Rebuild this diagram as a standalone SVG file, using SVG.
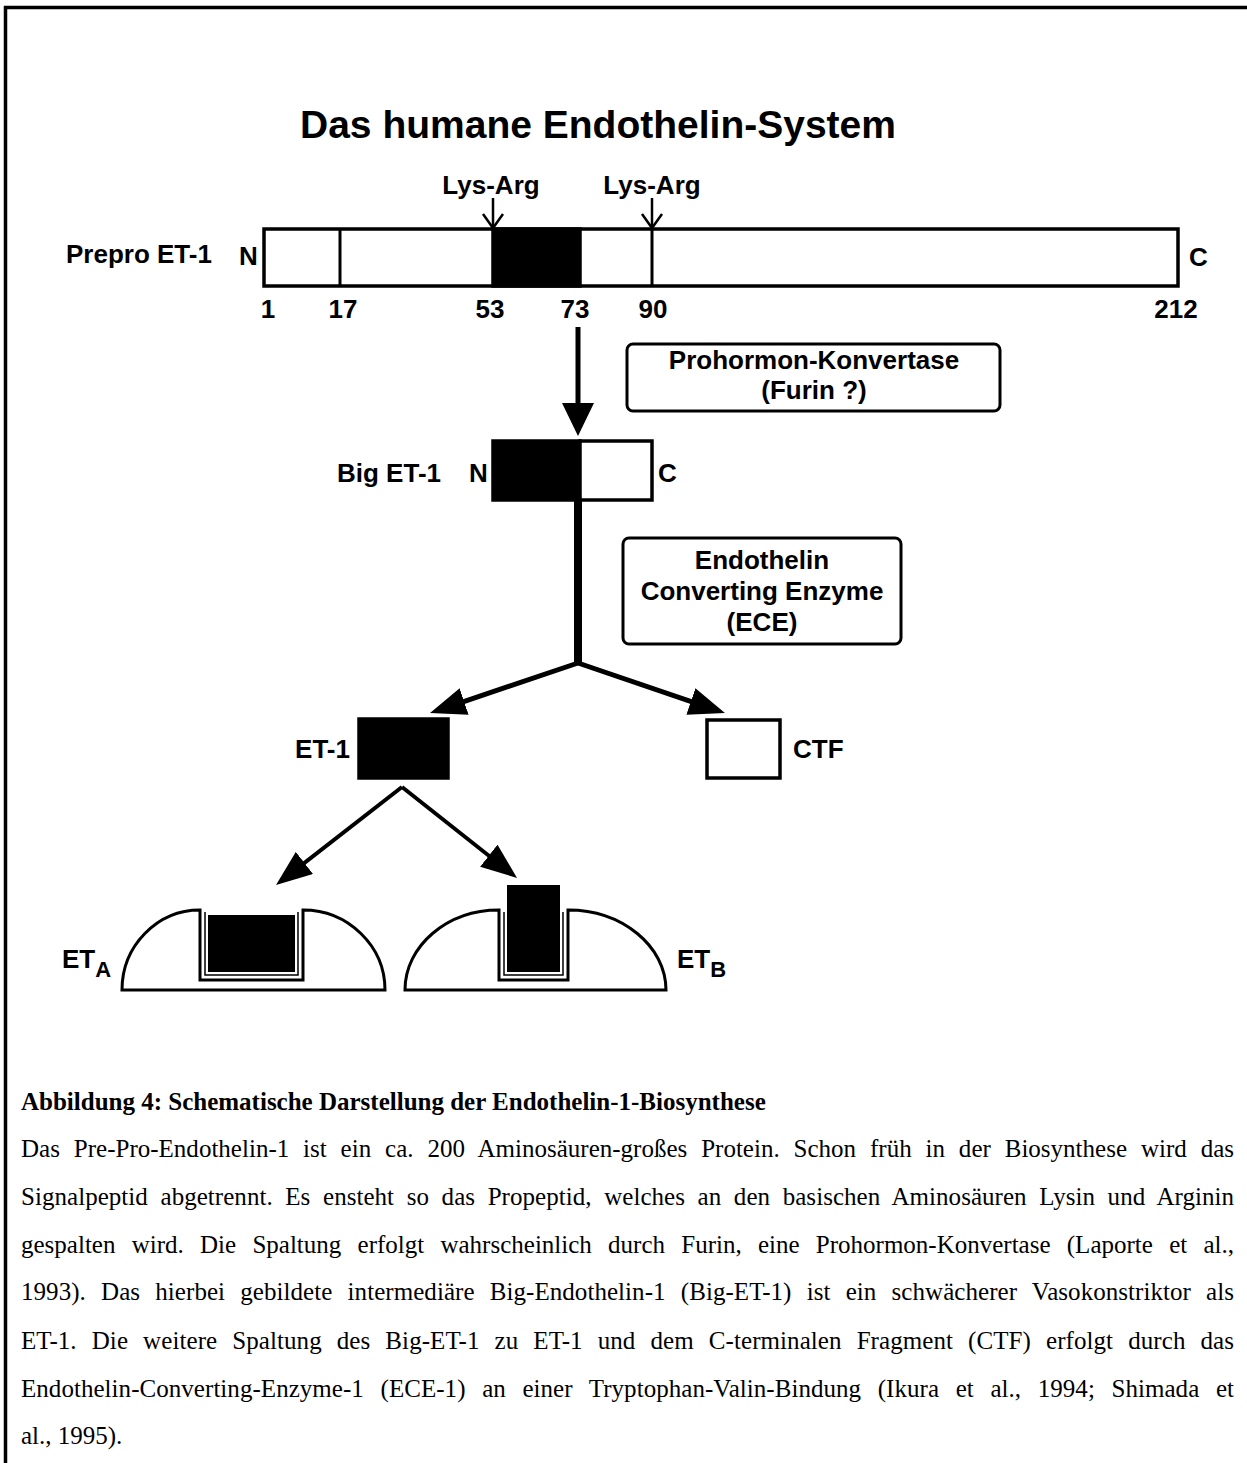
<svg xmlns="http://www.w3.org/2000/svg" width="1247" height="1463" viewBox="0 0 1247 1463">
<defs>
<style>
.lbl{font-family:"Liberation Sans",Arial,sans-serif;font-weight:bold;font-size:26px;fill:#000}
.ttl{font-family:"Liberation Sans",Arial,sans-serif;font-weight:bold;font-size:39px;fill:#000}
.cap{font-family:"Liberation Serif","Times New Roman",serif;font-size:25px;fill:#000}
.capb{font-family:"Liberation Serif","Times New Roman",serif;font-size:25px;font-weight:bold;fill:#000}
.box{fill:#fff;stroke:#000;stroke-width:3.5}
.blk{fill:#000;stroke:#000;stroke-width:3.5}
.thin{fill:none;stroke:#000;stroke-width:2.5}
.conn{fill:none;stroke:#000}
</style>
<marker id="ah" markerUnits="userSpaceOnUse" markerWidth="36" markerHeight="28" refX="26" refY="14" orient="auto">
<path d="M0,0 L36,14 L0,28 Z" fill="#000"/>
</marker>
</defs>
<rect x="0" y="0" width="1247" height="1463" fill="#fff"/>
<g id="frame">
<line x1="4" y1="7.5" x2="1247" y2="7.5" stroke="#000" stroke-width="3.5"/>
<line x1="5.5" y1="6" x2="5.5" y2="1463" stroke="#000" stroke-width="3.5"/>
</g>
<text class="ttl" x="598" y="138" text-anchor="middle">Das humane Endothelin-System</text>

<g id="prepro">
<rect class="box" x="264" y="229" width="914" height="57"/>
<rect class="blk" x="493" y="229" width="87" height="57"/>
<line x1="340" y1="229" x2="340" y2="286" stroke="#000" stroke-width="3"/>
<line x1="652" y1="229" x2="652" y2="286" stroke="#000" stroke-width="3"/>
<text class="lbl" x="66" y="263">Prepro ET-1</text>
<text class="lbl" x="239" y="265">N</text>
<text class="lbl" x="1189" y="266">C</text>
<g class="lbl" text-anchor="middle">
<text x="268" y="318">1</text>
<text x="343" y="318">17</text>
<text x="490" y="318">53</text>
<text x="575" y="318">73</text>
<text x="653" y="318">90</text>
<text x="1176" y="318">212</text>
<text x="491" y="194">Lys-Arg</text>
<text x="652" y="194">Lys-Arg</text>
</g>
</g>

<g id="prohormon">
<rect x="627" y="344" width="373" height="67" rx="6" fill="#fff" stroke="#000" stroke-width="3"/>
<text class="lbl" x="814" y="369" text-anchor="middle">Prohormon-Konvertase</text>
<text class="lbl" x="814" y="399" text-anchor="middle">(Furin ?)</text>
</g>

<g id="biget1">
<rect class="blk" x="493" y="441" width="87" height="59"/>
<rect class="box" x="580" y="441" width="72" height="59"/>
<text class="lbl" x="337" y="482">Big ET-1</text>
<text class="lbl" x="469" y="482">N</text>
<text class="lbl" x="658" y="482">C</text>
</g>

<g id="ece">
<rect x="623" y="538" width="278" height="106" rx="6" fill="#fff" stroke="#000" stroke-width="3"/>
<text class="lbl" x="762" y="569" text-anchor="middle">Endothelin</text>
<text class="lbl" x="762" y="600" text-anchor="middle">Converting Enzyme</text>
<text class="lbl" x="762" y="631" text-anchor="middle">(ECE)</text>
</g>

<g id="et1">
<rect class="blk" x="359" y="719" width="89" height="59"/>
<text class="lbl" x="350" y="758" text-anchor="end">ET-1</text>
</g>

<g id="ctf">
<rect class="box" x="707" y="720" width="73" height="58"/>
<text class="lbl" x="793" y="758">CTF</text>
</g>

<g id="eta">
<path d="M200,910 L200,980 L303,980 L303,910 C348,910 385,946 385,990 L122,990 C122,946 157,910 200,910 Z" fill="#fff" stroke="#000" stroke-width="3"/>
<path d="M205,912 L205,975 L298,975 L298,912" fill="none" stroke="#000" stroke-width="1.5"/>
<rect x="208" y="915" width="87" height="57" fill="#000"/>
<text class="lbl" x="62" y="968">ET<tspan font-size="22" dy="9">A</tspan></text>
</g>

<g id="etb">
<path d="M499,910 L499,980 L568,980 L568,910 C622,910 666,946 666,990 L405,990 C405,946 447,910 499,910 Z" fill="#fff" stroke="#000" stroke-width="3"/>
<path d="M504,912 L504,975 L563,975 L563,912" fill="none" stroke="#000" stroke-width="1.5"/>
<rect x="507" y="885" width="53" height="87" fill="#000"/>
<text class="lbl" x="677" y="968">ET<tspan font-size="22" dy="9">B</tspan></text>
</g>

<g id="connectors">
<line x1="493" y1="198" x2="493" y2="228" class="thin"/>
<polyline points="483,214 493,228 503,214" class="thin"/>
<line x1="652" y1="198" x2="652" y2="228" class="thin"/>
<polyline points="642,214 652,228 662,214" class="thin"/>
<line x1="578" y1="327" x2="578" y2="405" class="conn" stroke-width="5"/>
<polygon points="562,403 594,403 578,436" fill="#000"/>
<line x1="578" y1="500" x2="578" y2="665" class="conn" stroke-width="8"/>
<line x1="578" y1="663" x2="439.5" y2="709.8" class="conn" stroke-width="5" marker-end="url(#ah)"/>
<line x1="578" y1="663" x2="715.5" y2="709.8" class="conn" stroke-width="5" marker-end="url(#ah)"/>
<line x1="402" y1="787" x2="283.9" y2="878.9" class="conn" stroke-width="4" marker-end="url(#ah)"/>
<line x1="402" y1="787" x2="509.2" y2="871.8" class="conn" stroke-width="4" marker-end="url(#ah)"/>
</g>

<g id="caption">
<text class="capb" x="21" y="1110">Abbildung 4: Schematische Darstellung der Endothelin-1-Biosynthese</text>
<text class="cap" x="21" y="1157" word-spacing="7.6" textLength="1213" lengthAdjust="spacing">Das Pre-Pro-Endothelin-1 ist ein ca. 200 Aminosäuren-großes Protein. Schon früh in der Biosynthese wird das</text>
<text class="cap" x="21" y="1205" word-spacing="6.3" textLength="1213" lengthAdjust="spacing">Signalpeptid abgetrennt. Es ensteht so das Propeptid, welches an den basischen Aminosäuren Lysin und Arginin</text>
<text class="cap" x="21" y="1253" word-spacing="10" textLength="1213" lengthAdjust="spacing">gespalten wird. Die Spaltung erfolgt wahrscheinlich durch Furin, eine Prohormon-Konvertase (Laporte et al.,</text>
<text class="cap" x="21" y="1300" word-spacing="8.9" textLength="1213" lengthAdjust="spacing">1993). Das hierbei gebildete intermediäre Big-Endothelin-1 (Big-ET-1) ist ein schwächerer Vasokonstriktor als</text>
<text class="cap" x="21" y="1349" word-spacing="8.75" textLength="1213" lengthAdjust="spacing">ET-1. Die weitere Spaltung des Big-ET-1 zu ET-1 und dem C-terminalen Fragment (CTF) erfolgt durch das</text>
<text class="cap" x="21" y="1397" word-spacing="10.3" textLength="1213" lengthAdjust="spacing">Endothelin-Converting-Enzyme-1 (ECE-1) an einer Tryptophan-Valin-Bindung (Ikura et al., 1994; Shimada et</text>
<text class="cap" x="21" y="1444">al., 1995).</text>
</g>
</svg>
